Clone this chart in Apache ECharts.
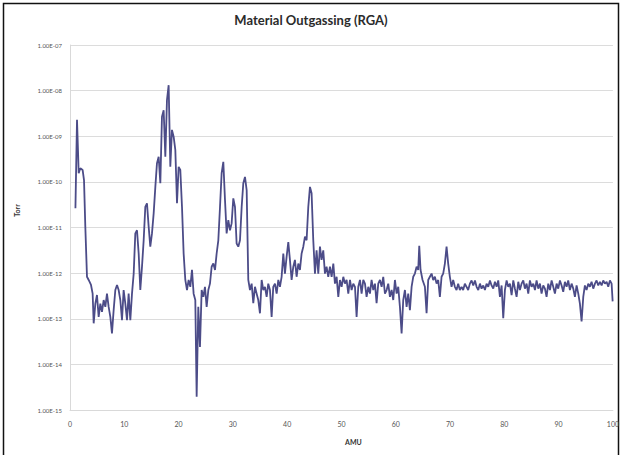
<!DOCTYPE html>
<html>
<head>
<meta charset="utf-8">
<title>Material Outgassing (RGA)</title>
<script src="https://cdn.jsdelivr.net/npm/echarts@6/dist/echarts.min.js"></script>
<style>
    html, body {margin: 0; padding: 0; background: #fff;}
    #chart01 {width: 622px; height: 455px;}
</style>
</head>
<body>
<div id="chart01"></div>
<script>
// AMU positions
var amuArr = [
    1.0, 1.29, 1.47, 1.6, 1.9, 2.33, 2.58, 2.82, 3.13, 3.44, 3.87, 4.17, 4.36, 4.67, 4.97, 5.28, 5.59, 5.89, 6.2, 6.51,
    6.81, 7.12, 7.43, 7.73, 8.04, 8.35, 8.66, 8.96, 9.27, 9.58, 9.88, 10.19, 10.5, 10.8, 11.11, 11.42, 11.73, 12.03, 12.34, 12.65,
    12.95, 13.26, 13.57, 13.87, 14.18, 14.49, 14.79, 15.1, 15.41, 15.72, 16.02, 16.33, 16.64, 16.94, 17.25, 17.56, 17.86, 18.17, 18.48, 18.78,
    19.09, 19.4, 19.71, 20.01, 20.32, 20.63, 20.93, 21.24, 21.55, 21.85, 22.16, 22.47, 22.77, 23.08, 23.33, 23.63, 23.94, 24.25, 24.56, 24.86,
    25.17, 25.48, 25.78, 26.09, 26.4, 26.71, 27.01, 27.32, 27.63, 27.93, 28.24, 28.55, 28.85, 29.16, 29.47, 29.77, 30.08, 30.39, 30.69, 31.0,
    31.31, 31.62, 31.92, 32.23, 32.54, 32.84, 33.15, 33.46, 33.76, 34.07, 34.38, 34.68, 34.99, 35.3, 35.6, 35.91, 36.22, 36.52, 36.83, 37.14,
    37.44, 37.75, 38.06, 38.37, 38.67, 38.98, 39.29, 39.59, 39.9, 40.21, 40.51, 40.82, 41.13, 41.43, 41.74, 42.05, 42.35, 42.66, 42.97, 43.28,
    43.58, 43.89, 44.2, 44.5, 44.81, 45.12, 45.42, 45.73, 46.04, 46.34, 46.65, 46.96, 47.26, 47.57, 47.88, 48.19, 48.5, 48.8, 49.11, 49.42,
    49.72, 50.03, 50.34, 50.64, 50.95, 51.26, 51.57, 51.87, 52.18, 52.49, 52.79, 53.1, 53.41, 53.71, 54.02, 54.33, 54.63, 54.94, 55.25, 55.55,
    55.86, 56.17, 56.47, 56.78, 57.09, 57.4, 57.7, 58.01, 58.32, 58.62, 58.93, 59.24, 59.54, 59.85, 60.16, 60.46, 60.77, 61.08, 61.38, 61.69,
    62.0, 62.3, 62.61, 62.92, 63.22, 63.53, 63.84, 64.14, 64.33, 64.57, 64.94, 65.37, 65.68, 65.98, 66.29, 66.6, 66.9, 67.21, 67.52, 67.82,
    68.13, 68.44, 68.74, 69.05, 69.36, 69.66, 69.97, 70.28, 70.58, 70.89, 71.2, 71.5, 71.81, 72.12, 72.42, 72.73, 73.04, 73.34, 73.66, 73.97,
    74.28, 74.59, 74.89, 75.2, 75.51, 75.81, 76.12, 76.43, 76.73, 77.04, 77.35, 77.65, 77.96, 78.27, 78.58, 78.88, 79.19, 79.5, 79.8, 80.11,
    80.42, 80.72, 81.03, 81.34, 81.65, 81.95, 82.26, 82.57, 82.87, 83.18, 83.49, 83.79, 84.1, 84.41, 84.71, 85.02, 85.33, 85.64, 85.94, 86.25,
    86.56, 86.86, 87.17, 87.48, 87.78, 88.09, 88.4, 88.71, 89.01, 89.32, 89.63, 89.93, 90.24, 90.55, 90.85, 91.16, 91.47, 91.77, 92.08, 92.39,
    92.7, 93.0, 93.31, 93.62, 93.92, 94.23, 94.54, 94.84, 95.15, 95.46, 95.76, 96.07, 96.38, 96.69, 96.99, 97.3, 97.61, 97.92, 98.22, 98.53,
    98.84, 99.14, 99.45, 99.76, 99.95
];
// pressure read as powers of ten (the y axis is logarithmic), Torr = 10^x
var torrExpArr = [
    -10.58, -8.64, -9.30, -9.81, -9.70, -9.74, -9.96, -10.98, -12.08, -12.15, -12.26, -12.45, -13.10, -12.67, -12.48, -12.96, -12.67, -12.85, -12.59, -12.74,
    -12.45, -12.74, -12.96, -13.32, -12.81, -12.37, -12.26, -12.37, -12.59, -13.03, -12.37, -12.67, -13.03, -12.45, -13.03, -12.45, -12.01, -11.13, -11.06, -11.57,
    -12.37, -11.86, -11.28, -10.55, -10.47, -10.98, -11.42, -11.13, -10.69, -10.11, -9.59, -9.45, -10.03, -8.57, -8.43, -9.45, -8.21, -7.88, -9.67, -8.86,
    -9.01, -9.30, -10.47, -9.67, -9.74, -10.55, -11.57, -12.15, -12.37, -12.15, -12.30, -11.93, -12.45, -12.59, -14.71, -12.74, -13.62, -12.37, -12.52, -12.30,
    -12.74, -12.37, -12.23, -11.86, -11.79, -11.93, -11.57, -11.28, -10.55, -9.81, -9.56, -10.40, -11.13, -10.84, -11.06, -10.91, -10.36, -10.55, -11.35, -11.42,
    -11.28, -10.55, -10.03, -9.89, -10.18, -12.15, -12.37, -12.23, -12.66, -12.30, -12.45, -12.59, -12.88, -12.15, -12.37, -12.30, -12.52, -12.23, -12.37, -12.96,
    -12.30, -12.23, -12.45, -12.15, -12.30, -12.08, -11.57, -12.01, -11.64, -11.32, -11.71, -12.15, -11.86, -11.71, -12.08, -11.79, -11.93, -11.57, -11.42, -11.20,
    -11.28, -10.55, -10.11, -10.25, -11.28, -12.01, -11.50, -12.01, -11.42, -11.71, -11.50, -12.01, -11.86, -12.08, -11.86, -12.08, -11.79, -12.23, -12.08, -12.52,
    -12.15, -12.30, -12.08, -12.23, -12.15, -12.45, -12.15, -12.37, -12.23, -12.30, -12.96, -12.30, -12.15, -12.45, -12.15, -12.23, -12.52, -12.30, -12.45, -12.15,
    -12.37, -12.23, -12.66, -12.23, -12.15, -12.30, -12.08, -12.45, -12.37, -12.23, -12.52, -12.37, -12.59, -12.15, -12.45, -12.30, -12.74, -13.32, -12.59, -12.37,
    -12.74, -12.45, -12.81, -12.30, -12.08, -12.01, -11.86, -11.93, -11.40, -11.93, -12.15, -12.30, -12.88, -12.15, -12.08, -12.01, -12.15, -12.08, -12.23, -12.15,
    -12.52, -12.08, -12.01, -11.79, -11.42, -11.79, -12.08, -12.30, -12.15, -12.30, -12.37, -12.23, -12.37, -12.30, -12.37, -12.23, -12.30, -12.37, -12.23, -12.16,
    -12.27, -12.16, -12.30, -12.37, -12.23, -12.34, -12.27, -12.37, -12.23, -12.30, -12.16, -12.27, -12.34, -12.19, -12.30, -12.16, -12.52, -12.27, -12.99, -12.37,
    -12.16, -12.30, -12.23, -12.48, -12.16, -12.34, -12.52, -12.19, -12.37, -12.23, -12.16, -12.34, -12.23, -12.45, -12.16, -12.30, -12.23, -12.37, -12.16, -12.34,
    -12.23, -12.45, -12.27, -12.34, -12.52, -12.23, -12.37, -12.16, -12.30, -12.45, -12.23, -12.34, -12.16, -12.27, -12.41, -12.19, -12.30, -12.16, -12.37, -12.23,
    -12.34, -12.52, -12.27, -12.45, -12.67, -13.06, -12.52, -12.27, -12.37, -12.23, -12.30, -12.19, -12.34, -12.23, -12.16, -12.27, -12.19, -12.27, -12.16, -12.23,
    -12.19, -12.30, -12.16, -12.23, -12.62
];
var xTickArr = [0, 10, 20, 30, 40, 50, 60, 70, 80, 90, 100];

var chart01 = echarts.init(document.getElementById("chart01"), null, {renderer: 'svg'});

function buildSeriesData(xArr, expArr) {
    var out = [];
    for (var i = 0; i < xArr.length; i++) {
        out.push([xArr[i], Math.pow(10, expArr[i])]);
    }
    return out;
}

function sciLabel(val) {
    var exp = Math.round(Math.log(val) / Math.LN10);
    var abs = Math.abs(exp);
    return '1.00E' + (exp < 0 ? '-' : '+') + (abs < 10 ? '0' + abs : abs);
}

function drawChart() {
    var option = {
        backgroundColor: '#fff',
        animation: false,
        title: {
            left: 'center',
            top: 8,
            text: 'Material Outgassing (RGA)',
            textStyle: {
                fontFamily: 'Lato',
                fontSize: 13,
                fontWeight: 'bold',
                color: '#2b2b2b'
            }
        },
        graphic: [{
            type: 'rect',
            shape: {x: 3.5, y: 3.5, width: 615, height: 470},
            style: {fill: 'none', stroke: '#111', lineWidth: 1.5},
            silent: true
        }],
        grid: {
            left: 70,
            right: 9,
            top: 45,
            bottom: 45
        },
        xAxis: {
            type: 'value',
            min: xTickArr[0],
            max: xTickArr[xTickArr.length - 1],
            interval: 10,
            name: 'AMU',
            nameLocation: 'middle',
            nameGap: 28,
            nameTextStyle: {fontFamily: 'Lato', fontSize: 7, fontWeight: 'bold', color: '#333', padding: [0, 0, 0, 24]},
            axisLine: {show: true, lineStyle: {color: '#d9d9d9', width: 1}},
            axisTick: {show: false},
            splitLine: {show: false},
            axisLabel: {fontFamily: 'Lato', fontSize: 7, color: '#555', margin: 10}
        },
        yAxis: {
            type: 'log',
            logBase: 10,
            min: 1e-15,
            max: 1e-7,
            interval: 1,
            name: 'Torr',
            nameLocation: 'middle',
            nameGap: 50,
            nameRotate: 90,
            nameTextStyle: {fontFamily: 'Lato', fontSize: 7, fontWeight: 'bold', color: '#333', padding: [0, 0, 0, 34]},
            axisLine: {show: true, lineStyle: {color: '#d9d9d9', width: 1}},
            axisTick: {show: false},
            splitLine: {show: true, lineStyle: {color: '#dcdcdc', width: 1}},
            axisLabel: {
                fontFamily: 'Lato', fontSize: 6, color: '#555', margin: 8,
                formatter: sciLabel
            }
        },
        series: [{
            name: 'Torr',
            type: 'line',
            showSymbol: false,
            symbol: 'none',
            data: buildSeriesData(amuArr, torrExpArr),
            lineStyle: {color: '#4c4c88', width: 1.8}
        }]
    };
    if (option && typeof option === "object") {
        chart01.setOption(option, true);
    }
}

drawChart();
</script>
</body>
</html>
